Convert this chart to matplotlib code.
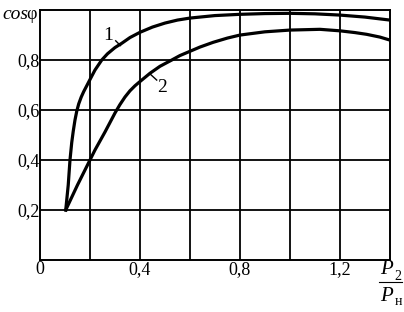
import numpy as np
import matplotlib
matplotlib.use("Agg")
import matplotlib.pyplot as plt

plt.rcParams['font.family'] = ['Liberation Serif', 'DejaVu Serif']

# curve 1 and curve 2: cos(phi) against load ratio P2/Pн
x1 = [0.103, 0.108, 0.113, 0.12, 0.127, 0.133, 0.14, 0.147, 0.155, 0.165, 0.175, 0.187,
      0.2, 0.22, 0.247, 0.27, 0.3, 0.327, 0.36, 0.4, 0.45, 0.5, 0.55, 0.6, 0.7, 0.8,
      0.9, 1.0, 1.1, 1.2, 1.3, 1.4]
y1 = [0.2, 0.25, 0.3, 0.4, 0.47, 0.515, 0.56, 0.595, 0.625, 0.652, 0.674, 0.697,
      0.722, 0.76, 0.8, 0.825, 0.85, 0.867, 0.89, 0.911, 0.932, 0.948, 0.96, 0.968, 0.978, 0.983,
      0.986, 0.987, 0.985, 0.98, 0.972, 0.96]
x2 = [0.103, 0.15, 0.2, 0.22, 0.24, 0.26, 0.28, 0.3, 0.32, 0.34, 0.36, 0.38, 0.4, 0.44, 0.48,
      0.527, 0.56, 0.6, 0.64, 0.693, 0.75, 0.8, 0.9, 1.0, 1.12, 1.2, 1.26, 1.307, 1.36, 1.4]
y2 = [0.2, 0.3, 0.4, 0.44, 0.476, 0.512, 0.55, 0.588, 0.622, 0.652, 0.677, 0.697, 0.714, 0.747, 0.775,
      0.8, 0.818, 0.835, 0.852, 0.871, 0.888, 0.9, 0.913, 0.92, 0.923, 0.917, 0.91, 0.903, 0.892, 0.88]

xticks = [0, 0.4, 0.8, 1.2]
xtick_labels = ['0', '0,4', '0,8', '1,2']
yticks = [0.2, 0.4, 0.6, 0.8]
ytick_labels = ['0,2', '0,4', '0,6', '0,8']

fig = plt.figure(figsize=(4.04, 3.12), dpi=100)
ax = fig.add_axes([0.099, 0.1667, 0.866, 0.801])

# grid every 0.2
for gx in np.arange(0.2, 1.4, 0.2):
    ax.axvline(gx, color='black', lw=1.3, zorder=1)
for gy in np.arange(0.2, 1.0, 0.2):
    ax.axhline(gy, color='black', lw=1.3, zorder=1)

ax.plot(x1, y1, color='black', lw=2.3, zorder=3, solid_joinstyle='round')
ax.plot(x2, y2, color='black', lw=2.3, zorder=3, solid_joinstyle='round')

ax.set_xlim(0, 1.4)
ax.set_ylim(0, 1.0)
ax.set_xticks(xticks)
ax.set_xticklabels(xtick_labels)
ax.set_yticks(yticks)
ax.set_yticklabels(ytick_labels)
ax.tick_params(length=0, labelsize=13)
ax.tick_params(axis='y', pad=0)
ax.tick_params(axis='x', pad=1)
for s in ax.spines.values():
    s.set_linewidth(1.4)

# curve labels with leaders
ax.plot([0.303, 0.322], [0.877, 0.858], color='black', lw=1)
ax.text(0.272, 0.9, '1', fontsize=14, ha='center', va='center')
ax.plot([0.443, 0.467], [0.742, 0.72], color='black', lw=1)
ax.text(0.487, 0.69, '2', fontsize=14, ha='center', va='center')

# axis titles
fig.text(0.005, 0.955, 'cos', fontsize=14, style='italic', va='center')
fig.text(0.066, 0.955, 'φ', fontsize=13, va='center')
fig.text(0.94, 0.135, 'P', fontsize=15, style='italic', va='center')
fig.text(0.975, 0.115, '2', fontsize=10, va='center')
fig.add_artist(plt.Line2D([0.938, 0.995], [0.096, 0.096], color='black', lw=0.8))
fig.text(0.94, 0.05, 'P', fontsize=15, style='italic', va='center')
fig.text(0.978, 0.033, 'н', fontsize=10, va='center')

fig.savefig('out.png', dpi=100)
